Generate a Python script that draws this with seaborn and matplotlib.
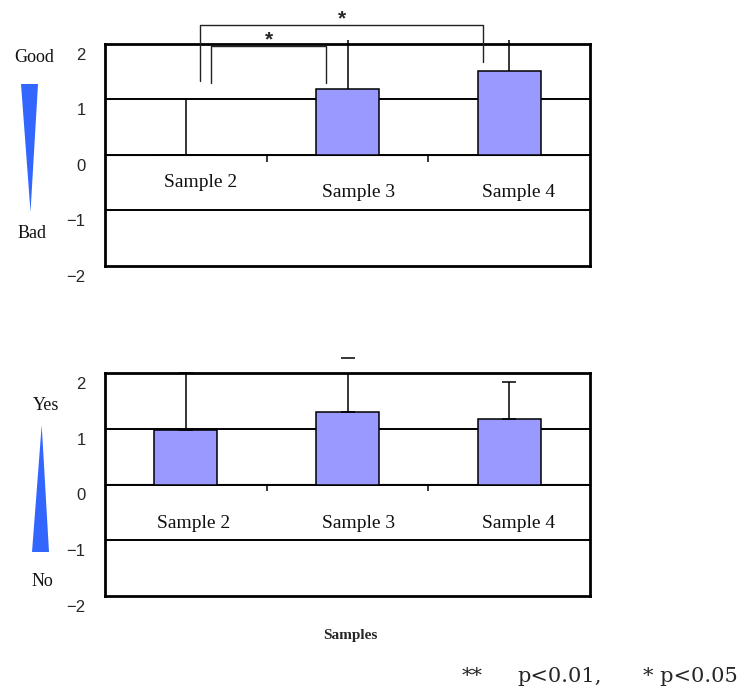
import numpy as np
import pandas as pd
import matplotlib
matplotlib.use("Agg")
import matplotlib.pyplot as plt
from matplotlib.patches import Polygon
from matplotlib.transforms import ScaledTranslation
import seaborn as sns

# ---- data -------------------------------------------------------------
samples = ["Sample 2", "Sample 3", "Sample 4"]

quality_mean = [0.0, 1.18, 1.51]      # Good / Bad rating
quality_err = [1.00, 0.89, 0.56]

choice_mean = [0.98, 1.30, 1.17]      # Yes / No rating
choice_err = [1.02, 0.97, 0.66]

y_ticks = [-2, -1, 0, 1, 2]

# significance brackets on the quality panel: (x_left, x_right, y_left, y_top, y_right, label)
brackets = [
    (0.09, 1.84, 1.34, 2.34, 1.68, "*"),
    (0.155, 0.87, 1.30, 1.96, 1.30, "*"),
]

# category label placement (x shift from category, y in data units)
quality_label_dx = [0.09, 0.07, 0.06]
quality_label_y = [-0.50, -0.69, -0.69]
choice_label_dx = [0.05, 0.07, 0.06]
choice_label_y = [-0.70, -0.70, -0.70]

# significance legend pieces (left edge in pixels)
legend_parts = [("**", 462), ("p<0.01,", 517), ("* p<0.05", 643)]

BAR_COLOR = "#9999ff"
ARROW_COLOR = "#3366ff"
SERIF = ["Liberation Serif", "DejaVu Serif"]

sns.set_style("white")
plt.rcParams["font.family"] = ["Liberation Sans", "DejaVu Sans"]

fig = plt.figure(figsize=(7.5, 6.95), dpi=100)
W, H = 750, 695


def fig_xy(px, py):
    return px / W, 1 - py / H


ax_top = fig.add_axes([105 / W, 1 - 265.5 / H, 485 / W, 221.5 / H])
ax_bot = fig.add_axes([105 / W, 1 - 596 / H, 485 / W, 223 / H])


def draw_panel(ax, means, errs, label_dx, label_y, caps):
    df = pd.DataFrame({"sample": samples, "value": means})
    sns.barplot(data=df, x="sample", y="value", ax=ax, color=BAR_COLOR,
                saturation=1, width=0.39, edgecolor="black", linewidth=1.1,
                errorbar=None, zorder=3)
    xs = np.arange(len(samples))
    eb = ax.errorbar(xs, means, yerr=[np.zeros(len(errs)), errs], fmt="none",
                     ecolor="black", elinewidth=1.1,
                     capsize=4.7 if caps else 0, capthick=1.1, zorder=4)
    _, caplines, barcols = eb.lines
    for c in barcols:
        c.set_clip_on(caps)
    for c in caplines:
        c.set_clip_on(False)

    ax.set_xlim(-0.5, len(samples) - 0.5)
    ax.set_ylim(-2, 2)
    ax.set_yticks(y_ticks)
    ax.set_yticklabels([f"{v}".replace("-", "\u2212") for v in y_ticks],
                       fontsize=12)
    ax.tick_params(axis="y", length=0, pad=14)
    shift = ScaledTranslation(0, -10 / 100, fig.dpi_scale_trans)
    for lab in ax.get_yticklabels():
        lab.set_transform(lab.get_transform() + shift)
    ax.set_xticks([])
    ax.set_xlabel("")
    ax.set_ylabel("")
    for yv in y_ticks[1:-1]:
        ax.axhline(yv, color="black", lw=1.4, zorder=2)
    for s in ax.spines.values():
        s.set_visible(True)
        s.set_color("black")
        s.set_linewidth(2.0)

    # category separators sitting on the zero line
    sec = ax.secondary_xaxis(0.5)
    sec.set_xticks(xs[:-1] + 0.5)
    sec.set_xticklabels([])
    sec.tick_params(direction="in", length=5, width=1.1, color="black")
    sec.spines["bottom"].set_visible(False)

    for i, name in enumerate(samples):
        ax.text(i + label_dx[i], label_y[i], name, ha="center", va="center",
                fontsize=14, family=SERIF, color="#111111")


draw_panel(ax_top, quality_mean, quality_err, quality_label_dx, quality_label_y, caps=False)
draw_panel(ax_bot, choice_mean, choice_err, choice_label_dx, choice_label_y, caps=True)

# significance brackets
for xl, xr, yl, yt, yr, lab in brackets:
    ax_top.plot([xl, xl, xr, xr], [yl, yt, yt, yr], color="#222222", lw=1.0,
                clip_on=False, zorder=5)
    ax_top.text((xl + xr) / 2, yt + 0.12, lab, ha="center", va="center",
                fontsize=15, fontweight="bold", clip_on=False)

# scale direction markers
fig.add_artist(Polygon([fig_xy(21, 84), fig_xy(38, 84), fig_xy(30.5, 212)],
                       closed=True, facecolor=ARROW_COLOR, edgecolor="none",
                       transform=fig.transFigure))
fig.add_artist(Polygon([fig_xy(32, 552), fig_xy(49, 552), fig_xy(41.7, 425)],
                       closed=True, facecolor=ARROW_COLOR, edgecolor="none",
                       transform=fig.transFigure))
for txt, (px, py) in [("Good", (34, 58)), ("Bad", (32, 233)),
                      ("Yes", (46, 405)), ("No", (42, 582))]:
    fig.text(*fig_xy(px, py), txt, ha="center", va="center", fontsize=13,
             family=SERIF, color="#111111")

fig.text(*fig_xy(350, 636), "Samples", ha="center", va="center", fontsize=11,
         fontweight="bold", family=SERIF)
for txt, px in legend_parts:
    fig.text(*fig_xy(px, 677), txt, ha="left", va="center",
             fontsize=15, family=["DejaVu Serif"])

fig.savefig("out.png", dpi=100)
